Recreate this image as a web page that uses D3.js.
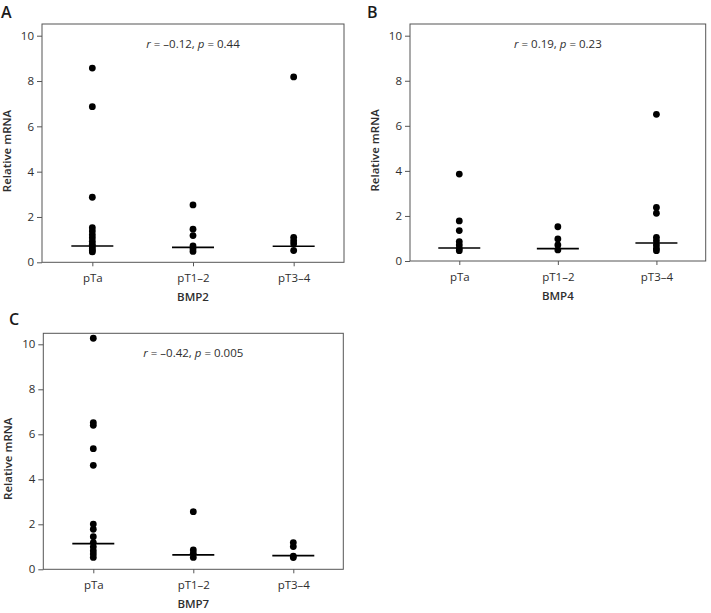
<!DOCTYPE html>
<html><head><meta charset="utf-8">
<script src="https://cdn.jsdelivr.net/npm/d3@7"></script>
<style>body{margin:0;background:#fff}svg{display:block}text{font-family:"Open Sans",sans-serif}</style>
</head><body>
<script>
const categories = ["pTa", "pT1\u20132", "pT3\u20134"];
const yTicks = [0, 2, 4, 6, 8, 10];

const bmp2Values = [
  [8.57, 6.87, 2.87, 1.53, 1.38, 1.22, 1.08, 0.93, 0.80, 0.70, 0.60, 0.52, 0.46],
  [2.53, 1.46, 1.18, 0.72, 0.60, 0.48],
  [8.18, 1.10, 0.95, 0.82, 0.52]
];
const bmp2Medians = [0.72, 0.66, 0.71];

const bmp4Values = [
  [3.86, 1.78, 1.35, 0.86, 0.71, 0.56, 0.46],
  [1.52, 0.98, 0.71, 0.49],
  [6.51, 2.38, 2.12, 1.05, 0.90, 0.71, 0.56, 0.46]
];
const bmp4Medians = [0.58, 0.55, 0.80];

const bmp7Values = [
  [10.27, 6.52, 6.40, 5.36, 4.62, 2.01, 1.78, 1.45, 1.19, 1.00, 0.83, 0.68, 0.53],
  [2.56, 0.86, 0.71, 0.53],
  [1.19, 1.01, 0.59, 0.52]
];
const bmp7Medians = [1.14, 0.64, 0.61];

const panelLetters = ["A", "B", "C"];
const geneNames = ["BMP2", "BMP4", "BMP7"];
const rTexts = ["\u20130.12", "0.19", "\u20130.42"];
const pTexts = ["0.44", "0.23", "0.005"];

const panels = [
  {letter: panelLetters[0], gene: geneNames[0], values: bmp2Values, medians: bmp2Medians, r: rTexts[0], p: pTexts[0],
   left: 42, right: 344, top: 24, y0: 262.3, y10: 35.7, lx: 1, ly: 17.5},
  {letter: panelLetters[1], gene: geneNames[1], values: bmp4Values, medians: bmp4Medians, r: rTexts[1], p: pTexts[1],
   left: 410, right: 705.7, top: 24, y0: 261, y10: 35.7, lx: 367, ly: 17.5},
  {letter: panelLetters[2], gene: geneNames[2], values: bmp7Values, medians: bmp7Medians, r: rTexts[2], p: pTexts[2],
   left: 43.3, right: 343.3, top: 333.3, y0: 569.3, y10: 344.3, lx: 9, ly: 325}
];

const svg = d3.select("body").append("svg").attr("width", 711).attr("height", 613);
svg.append("rect").attr("width", 711).attr("height", 613).attr("fill", "#fff");

const textCol = "#2e2e2e", axisCol = "#555";

panels.forEach(P => {
  const g = svg.append("g");
  const x = d3.scalePoint().domain(categories).range([P.left, P.right]).padding(0.5);
  const y = d3.scaleLinear().domain([0, 10]).range([P.y0, P.y10]);

  g.append("rect").attr("x", P.left).attr("y", P.top).attr("width", P.right - P.left).attr("height", P.y0 - P.top)
    .attr("fill", "none").attr("stroke", axisCol).attr("stroke-width", 1);

  const ya = g.append("g").attr("transform", `translate(${P.left},0)`)
    .call(d3.axisLeft(y).tickValues(yTicks).tickSize(5).tickPadding(3).tickFormat(d3.format("d")));
  ya.select(".domain").remove();
  ya.selectAll("line").attr("stroke", axisCol);
  ya.selectAll("text").attr("fill", textCol).style("font-size", "11.5px");

  const xa = g.append("g").attr("transform", `translate(0,${P.y0})`)
    .call(d3.axisBottom(x).tickSize(4).tickPadding(8));
  xa.select(".domain").remove();
  xa.selectAll("line").attr("stroke", axisCol);
  xa.selectAll("text").attr("fill", textCol).style("font-size", "11.5px");

  categories.forEach((c, i) => {
    g.selectAll(null).data(P.values[i]).enter().append("circle")
      .attr("cx", x(c)).attr("cy", d => y(d)).attr("r", 3.4).attr("fill", "#000");
    g.append("line").attr("x1", x(c) - 21).attr("x2", x(c) + 21)
      .attr("y1", y(P.medians[i])).attr("y2", y(P.medians[i]))
      .attr("stroke", "#000").attr("stroke-width", 1.6);
  });

  const cx = (P.left + P.right) / 2;
  const ann = g.append("text").attr("x", cx).attr("y", y(10) + 12.5).attr("text-anchor", "middle")
    .attr("fill", textCol).style("font-size", "11.5px");
  ann.append("tspan").style("font-style", "italic").text("r");
  ann.append("tspan").text(" = " + P.r + ", ");
  ann.append("tspan").style("font-style", "italic").text("p");
  ann.append("tspan").text(" = " + P.p);

  g.append("text").attr("x", cx).attr("y", P.y0 + 39).attr("text-anchor", "middle")
    .attr("fill", textCol).style("font-size", "11.5px").style("font-weight", "600").text(P.gene);

  const ym = (P.y0 + P.y10) / 2 + 2;
  g.append("text").attr("transform", `translate(${P.left - 31},${ym}) rotate(-90)`).attr("text-anchor", "middle")
    .attr("fill", textCol).style("font-size", "11.5px").style("font-weight", "600").text("Relative mRNA");

  g.append("text").attr("x", P.lx).attr("y", P.ly).attr("fill", "#1a1a1a")
    .style("font-size", "16px").style("font-weight", "600").text(P.letter);
});
</script>
</body></html>
